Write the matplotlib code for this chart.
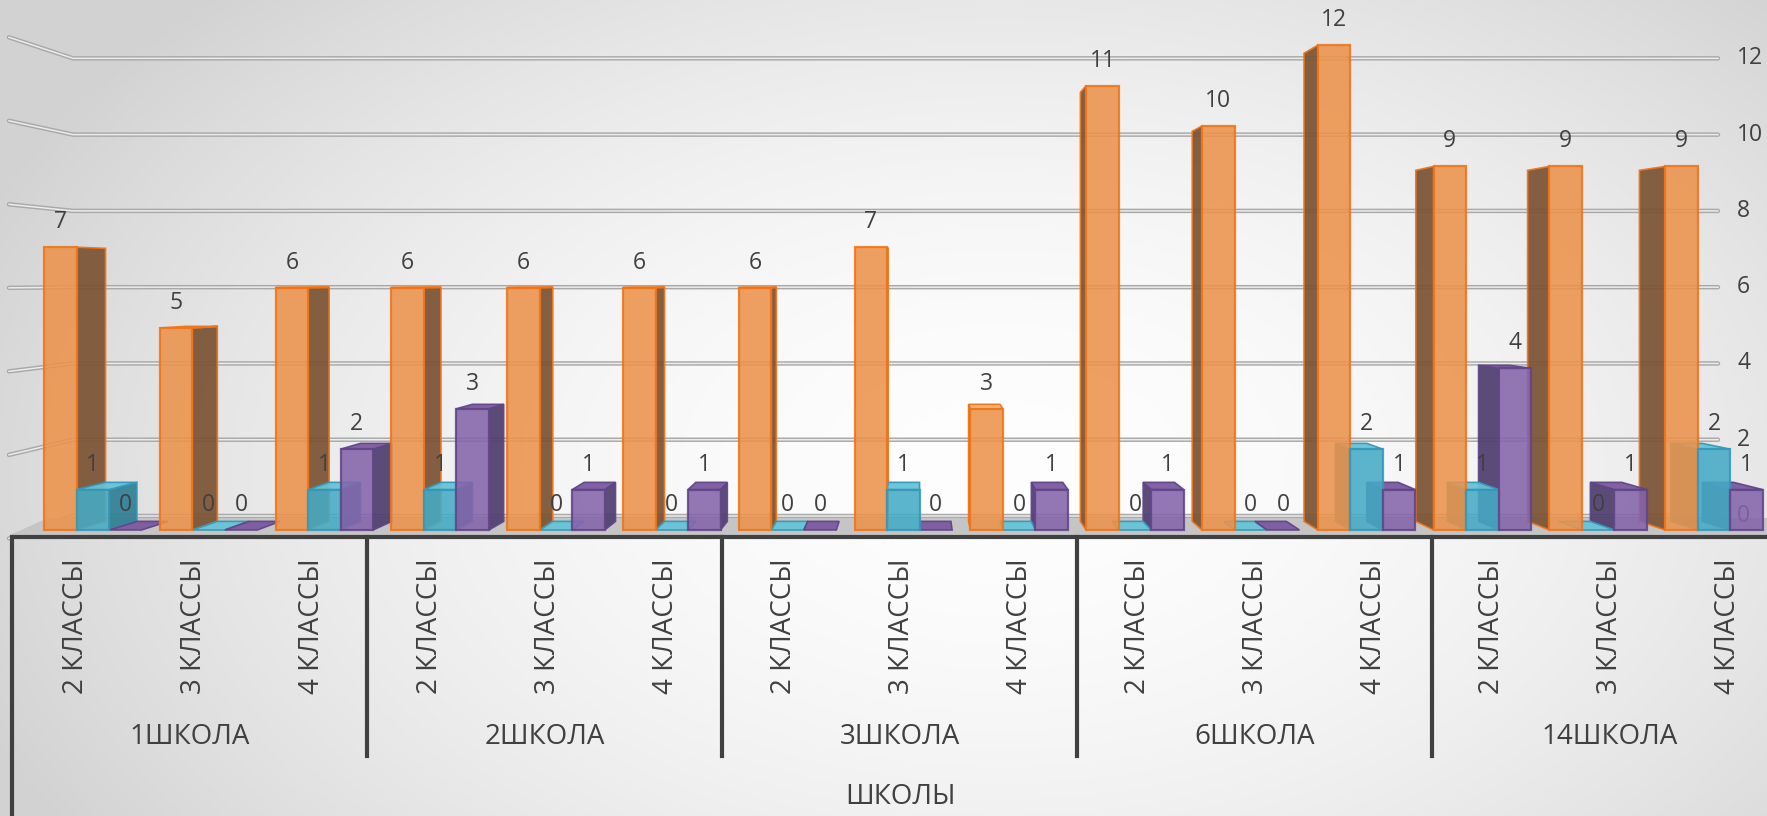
import numpy as np
import matplotlib.pyplot as plt
from matplotlib.patches import Polygon

# data
schools = ['1ШКОЛА', '2ШКОЛА', '3ШКОЛА', '6ШКОЛА', '14ШКОЛА']
classes = ['2 КЛАССЫ', '3 КЛАССЫ', '4 КЛАССЫ']
orange_vals = [7, 5, 6, 6, 6, 6, 6, 7, 3, 11, 10, 12, 9, 9, 9]
teal_vals = [1, 0, 1, 1, 0, 0, 0, 1, 0, 0, 0, 2, 1, 0, 2]
purple_vals = [0, 0, 2, 3, 1, 1, 0, 0, 1, 1, 0, 1, 4, 1, 1]
y_ticks = [0, 2, 4, 6, 8, 10, 12]
axis_title = 'ШКОЛЫ'

plt.rcParams['font.family'] = ['Open Sans', 'DejaVu Sans']
TXT = '#404040'

W, H = 1767, 816
fig = plt.figure(figsize=(W / 100, H / 100), dpi=100)

# background: soft radial gradient
bg = fig.add_axes([0, 0, 1, 1], zorder=-5)
yy, xx = np.mgrid[0:H, 0:W]
r = np.sqrt(((xx - 1000) / 1100.0) ** 2 + ((yy - 470) / 680.0) ** 2)
g = 0.995 - 0.17 * np.clip(r, 0, 1) ** 1.8
bg.imshow(np.dstack([g, g, g]), aspect='auto', extent=[0, 1, 0, 1])
bg.axis('off')

ax = fig.add_axes([0, 0, 1, 1])
ax.patch.set_alpha(0)

# layout scale (pixel measurements -> data units)
X0, SX = 92.75, 115.8     # cluster centre of category 0, spacing
Y0, SY = 530.0, 40.4      # baseline pixel, pixels per unit


def px_x(p):
    return (p - X0) / SX


def px_y(p):
    return (Y0 - p) / SY


ax.set_xlim(px_x(0), px_x(W))
ax.set_ylim(px_y(H), px_y(0))
ax.axis('off')

# perspective
XV, YV = px_x(918), px_y(280)
K_BAR = 0.0345
K_WALL = 0.056


def back(x, y, k):
    return x + k * (XV - x), y + k * (YV - y)


# gridlines on back wall + left wall
for v in y_ticks:
    yb = v + K_WALL * (YV - v)
    yl = yb + (yb - YV) * 0.095
    xs = [px_x(9), px_x(73), px_x(1718)]
    ys = [yl, yb, yb]
    ax.plot(xs, ys, color='#a9a9a9', lw=3.2, solid_capstyle='round', zorder=1)
    ax.plot(xs, ys, color='#ececec', lw=1.1, zorder=1.1)
    ax.text(px_x(1737), yb, str(v), ha='left', va='center', fontsize=16.5,
            color=TXT)

# floor
floor = Polygon([(px_x(10), px_y(535)), (px_x(W), px_y(535)),
                 (px_x(W), px_y(518)), (px_x(48), px_y(518))],
                closed=True, facecolor='#c5c5c5', edgecolor='none', zorder=1.5)
ax.add_patch(floor)

# bars as pseudo-3D boxes
bw = 32.5 / SX
series = [
    (orange_vals, -bw, '#ec934c', '#f07418', '#7b5233', '#f3b071'),
    (teal_vals, 0.0, '#45abc6', '#3598b8', '#2f7f95', '#66c3d8'),
    (purple_vals, bw, '#8564ab', '#614589', '#4e3d6e', '#7a5aa0'),
]

for vals, off, c_front, c_edge, c_side, c_top in series:
    for i, h in enumerate(vals):
        cx = i + off
        x0, x1 = cx - bw / 2, cx + bw / 2
        # side face
        if x1 < XV:
            sx = x1
        elif x0 > XV:
            sx = x0
        else:
            sx = None
        if sx is not None and h > 0:
            pts = [(sx, 0), (sx, h), back(sx, h, K_BAR), back(sx, 0, K_BAR)]
            ax.add_patch(Polygon(pts, closed=True, facecolor=c_side,
                                 edgecolor=c_edge, lw=1.2, alpha=0.92, zorder=2))
        # top face
        if h < YV:
            pts = [(x0, h), (x1, h), back(x1, h, K_BAR), back(x0, h, K_BAR)]
            ax.add_patch(Polygon(pts, closed=True, facecolor=c_top,
                                 edgecolor=c_edge, lw=1.2, alpha=0.95, zorder=2.2))
        # front face
        if h > 0:
            ax.bar(cx, h, width=bw, color=c_front, edgecolor=c_edge,
                   linewidth=1.6, alpha=0.88, zorder=3)
        ax.text(cx, h + 25 / SY, str(h), ha='center', va='center',
                fontsize=16.5, color=TXT, zorder=6)

# category axis frame
ax.plot([px_x(12), px_x(W)], [px_y(537), px_y(537)], color='#404040',
        lw=3, zorder=4, solid_capstyle='butt')
ax.plot([px_x(12), px_x(12)], [px_y(537), px_y(H)], color='#404040',
        lw=3, zorder=4)
for s in range(1, len(schools)):
    xs = px_x(12 + 355 * s)
    ax.plot([xs, xs], [px_y(537), px_y(756)], color='#404040', lw=3, zorder=4)

for s, school in enumerate(schools):
    ax.text(px_x(12 + 355 * (s + 0.5)), px_y(737), school, ha='center',
            va='center', fontsize=20, color=TXT)
    for j, cl in enumerate(classes):
        i = s * len(classes) + j
        ax.text(px_x(76 + 118 * i), px_y(626), cl, rotation=90, ha='center',
                va='center', fontsize=20, color=TXT)

ax.text(px_x(900), px_y(797), axis_title, ha='center', va='center',
        fontsize=20, color=TXT)

fig.savefig('out.png', dpi=100)
